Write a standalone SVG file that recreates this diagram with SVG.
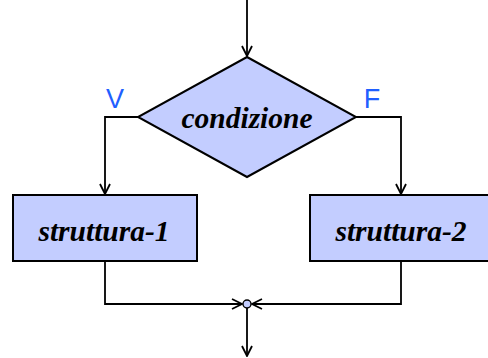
<svg xmlns="http://www.w3.org/2000/svg" width="488" height="358" viewBox="0 0 488 358">
<defs>
<style>
.shape{fill:#c3cdff;stroke:#000;stroke-width:2}
.line{fill:none;stroke:#000;stroke-width:1.8}
.lbl{font-family:"Liberation Serif","Times New Roman",serif;font-weight:bold;font-style:italic;font-size:29.5px;fill:#000;text-anchor:middle}
.vf{font-family:"Liberation Sans",Arial,sans-serif;font-size:27px;fill:#1f5fff;text-anchor:middle}
</style>
<marker id="arr" viewBox="0 0 12 12" refX="11" refY="6" markerWidth="12" markerHeight="12" markerUnits="userSpaceOnUse" orient="auto">
<path d="M1,1 L11,6 L1,11" fill="none" stroke="#000" stroke-width="1.8"/>
</marker>
</defs>
<rect width="488" height="358" fill="#fff"/>
<g id="connectors">
<path class="line" d="M247,0 V56" marker-end="url(#arr)"/>
<path class="line" d="M138,117 H105 V194" marker-end="url(#arr)"/>
<path class="line" d="M356,117 H401 V194" marker-end="url(#arr)"/>
<path class="line" d="M105,262 V304 H242" marker-end="url(#arr)"/>
<path class="line" d="M401,262 V304 H252" marker-end="url(#arr)"/>
<path class="line" d="M247,308 V356" marker-end="url(#arr)"/>
</g>
<g id="condizione">
<polygon class="shape" points="247,57 356,117 247,177 138,117"/>
<text class="lbl" x="247" y="128">condizione</text>
</g>
<g id="label-V"><text class="vf" x="115" y="108">V</text></g>
<g id="label-F"><text class="vf" x="372" y="108">F</text></g>
<g id="struttura-1">
<rect class="shape" x="13" y="195" width="184" height="66"/>
<text class="lbl" x="104" y="241">struttura-1</text>
</g>
<g id="struttura-2">
<rect class="shape" x="310" y="195" width="184" height="66"/>
<text class="lbl" x="401" y="241">struttura-2</text>
</g>
<g id="join">
<circle cx="247" cy="304" r="4" fill="#c3cdff" stroke="#000" stroke-width="1.4"/>
</g>
</svg>
